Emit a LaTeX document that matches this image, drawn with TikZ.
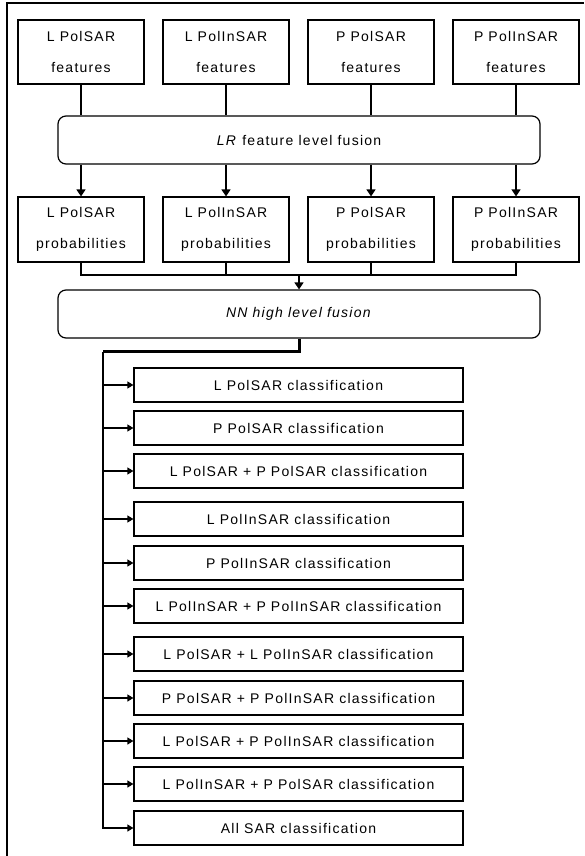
\documentclass[tikz,border=0pt]{standalone}
\usepackage{fontspec}
\setmainfont{Liberation Sans}[LetterSpace=9]
\usetikzlibrary{arrows.meta}

\tikzset{
	srcbox/.style={draw, line width=1.2pt, minimum width=126pt, minimum height=64pt, inner sep=0pt, align=center, font=\fontsize{14}{31}\selectfont},
	fusebox/.style={draw, line width=1.2pt, rounded corners=8pt, minimum width=482pt, minimum height=48pt, font=\fontsize{14}{16}\selectfont},
	classbox/.style={draw, line width=1.2pt, minimum width=329pt, minimum height=34pt, inner sep=0pt, font=\fontsize{14}{16}\selectfont},
	arr/.style={-{Triangle[length=7pt,width=9pt]}, line width=1.2pt},
	smallarr/.style={-{Triangle[length=6pt,width=7pt]}, line width=1.2pt},
}

\begin{document}
\begin{tikzpicture}[x=1pt,y=-1pt]
		\useasboundingbox (0,0) rectangle (584,856);
		\draw[line width=2.5pt] (7,856) -- (7,3) -- (584,3);

		% input features
		\node[srcbox] (lpsf) at (81,52) {L PolSAR\\features};
		\node[srcbox] (linf) at (226,52) {L PolInSAR\\features};
		\node[srcbox] (ppsf) at (371,52) {P PolSAR\\features};
		\node[srcbox] (pinf) at (516,52) {P PolInSAR\\features};

		\node[fusebox] (lrfus) at (299,140) {\textit{LR} feature level fusion};

		% probabilities
		\node[srcbox, minimum height=65pt] (lpsp) at (81,229.5) {L PolSAR\\probabilities};
		\node[srcbox, minimum height=65pt] (linp) at (226,229.5) {L PolInSAR\\probabilities};
		\node[srcbox, minimum height=65pt] (ppsp) at (371,229.5) {P PolSAR\\probabilities};
		\node[srcbox, minimum height=65pt] (pinp) at (516,229.5) {P PolInSAR\\probabilities};

		\node[fusebox] (nnfus) at (299,314) {\textit{NN high level fusion}};

		\draw[line width=1.2pt] (lpsf.south) -- (lpsf.south |- lrfus.north);
		\draw[line width=1.2pt] (linf.south) -- (linf.south |- lrfus.north);
		\draw[line width=1.2pt] (ppsf.south) -- (ppsf.south |- lrfus.north);
		\draw[line width=1.2pt] (pinf.south) -- (pinf.south |- lrfus.north);

		\draw[arr] (lpsp.north |- lrfus.south) -- (lpsp.north);
		\draw[arr] (linp.north |- lrfus.south) -- (linp.north);
		\draw[arr] (ppsp.north |- lrfus.south) -- (ppsp.north);
		\draw[arr] (pinp.north |- lrfus.south) -- (pinp.north);

		\coordinate (bus) at (299,275);
		\draw[line width=1.2pt] (lpsp.south) -- (lpsp.south |- bus) -- (pinp.south |- bus) -- (pinp.south);
		\draw[line width=1.2pt] (linp.south) -- (linp.south |- bus);
		\draw[line width=1.2pt] (ppsp.south) -- (ppsp.south |- bus);
		\draw[arr] (bus) -- (nnfus.north);

		% classifications
		\node[classbox] (c1) at (298.5,385) {L PolSAR classification};
		\node[classbox] (c2) at (298.5,428) {P PolSAR classification};
		\node[classbox] (c3) at (298.5,471) {L PolSAR + P PolSAR classification};
		\node[classbox] (c4) at (298.5,519) {L PolInSAR classification};
		\node[classbox] (c5) at (298.5,563) {P PolInSAR classification};
		\node[classbox] (c6) at (298.5,606) {L PolInSAR + P PolInSAR classification};
		\node[classbox] (c7) at (298.5,654) {L PolSAR + L PolInSAR classification};
		\node[classbox] (c8) at (298.5,698) {P PolSAR + P PolInSAR classification};
		\node[classbox] (c9) at (298.5,741) {L PolSAR + P PolInSAR classification};
		\node[classbox] (c10) at (298.5,784) {L PolInSAR + P PolSAR classification};
		\node[classbox] (c11) at (298.5,828) {All SAR classification};

		\coordinate (split) at (103,351.5);
		\draw[line width=3pt] (nnfus.south) |- (split);
		\draw[smallarr] (split) -- (split |- c11) -- (c11.west);
		\draw[smallarr] (split |- c1) -- (c1.west);
		\draw[smallarr] (split |- c2) -- (c2.west);
		\draw[smallarr] (split |- c3) -- (c3.west);
		\draw[smallarr] (split |- c4) -- (c4.west);
		\draw[smallarr] (split |- c5) -- (c5.west);
		\draw[smallarr] (split |- c6) -- (c6.west);
		\draw[smallarr] (split |- c7) -- (c7.west);
		\draw[smallarr] (split |- c8) -- (c8.west);
		\draw[smallarr] (split |- c9) -- (c9.west);
		\draw[smallarr] (split |- c10) -- (c10.west);
	\end{tikzpicture}
\end{document}
